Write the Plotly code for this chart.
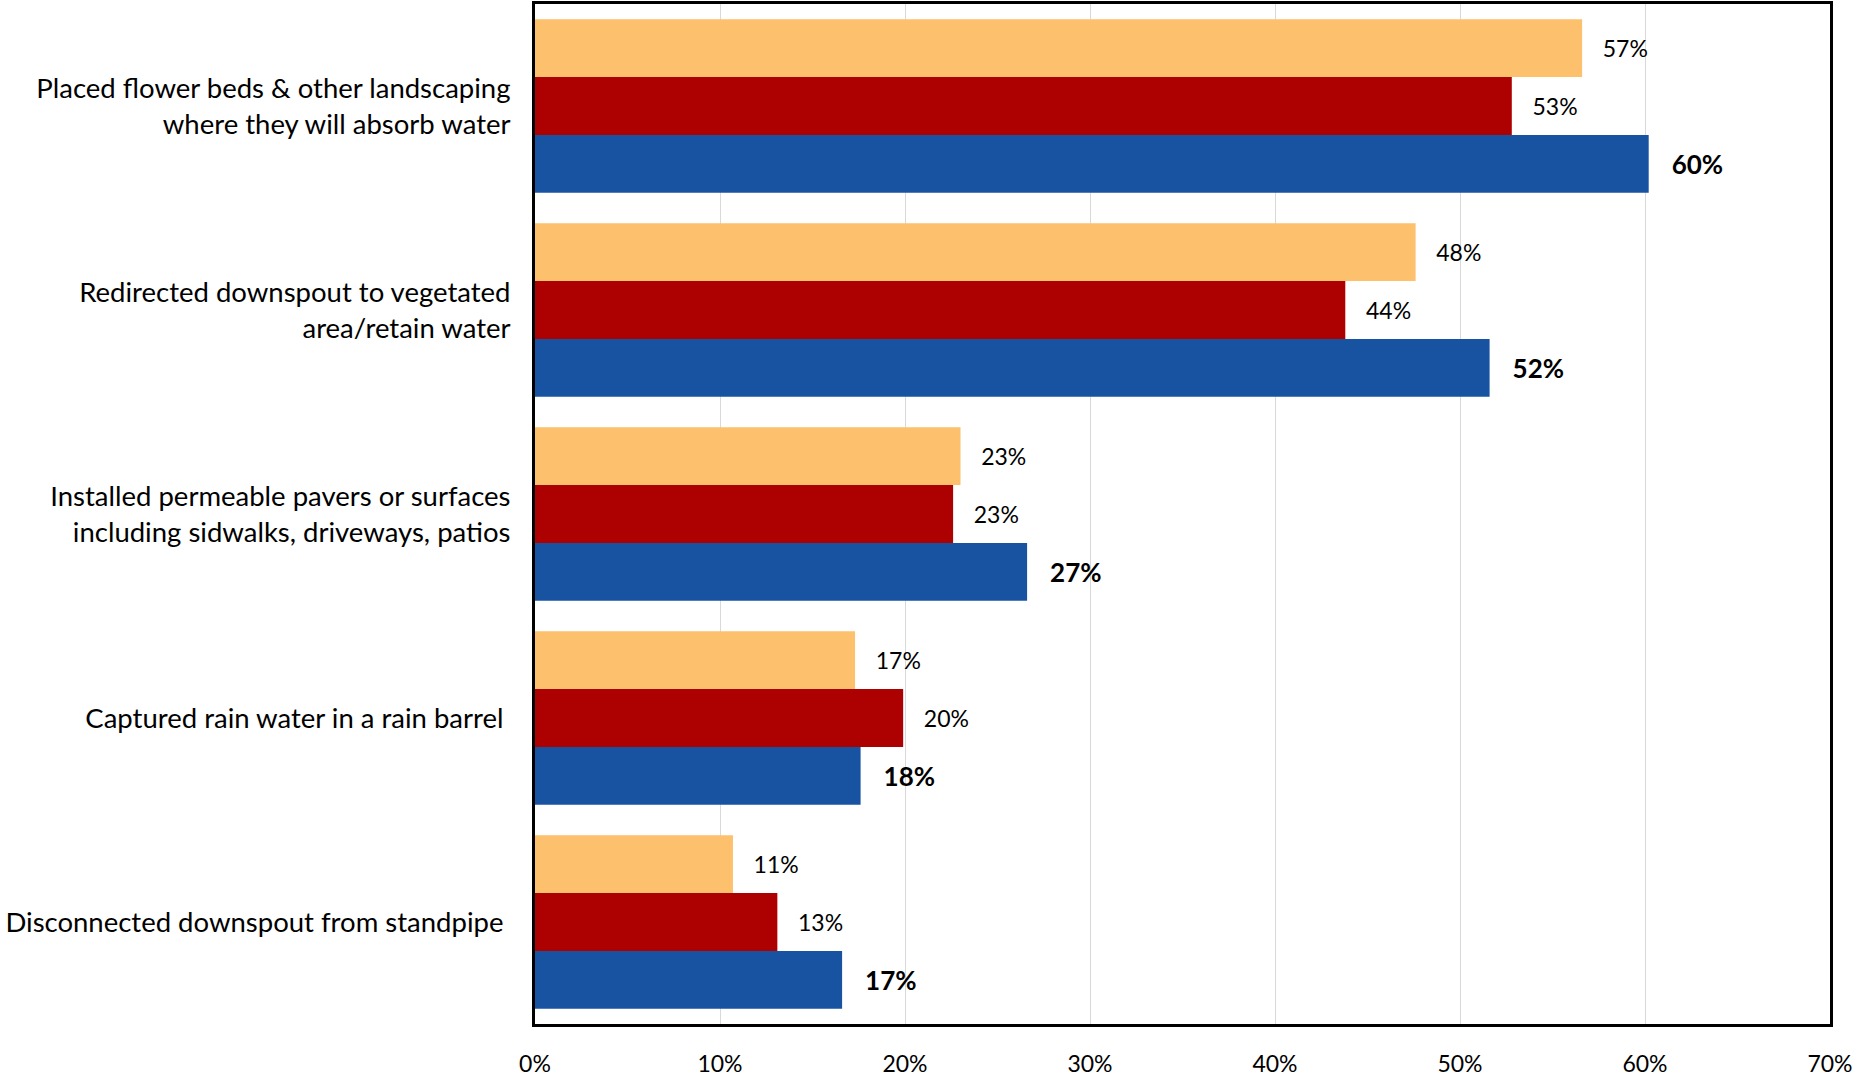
import plotly.graph_objects as go

categories = [
    "Placed flower beds & other landscaping<br>where they will absorb water",
    "Redirected downspout to vegetated<br>area/retain water",
    "Installed permeable pavers or surfaces<br>including sidwalks, driveways, patios",
    "Captured rain water in a rain barrel\u00a0",
    "Disconnected downspout from standpipe\u00a0",
]
# three survey series, top to bottom within each group
series_a = [56.6, 47.6, 23.0, 17.3, 10.7]
series_b = [52.8, 43.8, 22.6, 19.9, 13.1]
series_c = [60.2, 51.6, 26.6, 17.6, 16.6]
x_ticks = [0, 10, 20, 30, 40, 50, 60, 70]
x_tick_labels = ["0%", "10%", "20%", "30%", "40%", "50%", "60%", "70%"]

FONT = "Lato"
colors = ["#FDC06D", "#AD0000", "#1853A2"]

fig = go.Figure()
for name, vals, col, bold in [("Series A", series_a, colors[0], False),
                              ("Series B", series_b, colors[1], False),
                              ("Series C", series_c, colors[2], True)]:
    tmpl = "\u00a0\u00a0\u00a0%{x:.0f}%"
    if bold:
        tmpl = "\u00a0\u00a0\u00a0<b>%{x:.0f}%</b>"
    fig.add_trace(go.Bar(
        y=categories, x=vals, name=name, orientation="h",
        marker=dict(color=col, line=dict(width=0)),
        texttemplate=tmpl, textposition="outside", cliponaxis=False,
        textfont=dict(family=FONT, size=26 if bold else 23, color="black"),
    ))

fig.update_layout(
    width=1856, height=1077,
    margin=dict(l=535, r=26, t=4, b=53),
    barmode="group", bargap=0.15, bargroupgap=0,
    showlegend=False,
    plot_bgcolor="white", paper_bgcolor="white",
    font=dict(family=FONT, size=27.5, color="black"),
)
fig.update_xaxes(
    range=[0, 70], tickvals=x_ticks, ticktext=x_tick_labels,
    showgrid=True, gridcolor="#D9D9D9", gridwidth=1,
    showline=True, linecolor="black", linewidth=3, mirror=True,
    ticks="outside", ticklen=17, tickcolor="rgba(0,0,0,0)",
    tickfont=dict(size=23), zeroline=False, automargin=False,
)
fig.update_yaxes(
    autorange="reversed", showline=True, linecolor="black", linewidth=3, mirror=True,
    ticks="outside", ticklen=16, tickcolor="rgba(0,0,0,0)",
    tickfont=dict(size=27.5), automargin=False,
)
fig.write_html("out.html", config={"displayModeBar": False},
               post_script="document.body.style.margin='0';")
